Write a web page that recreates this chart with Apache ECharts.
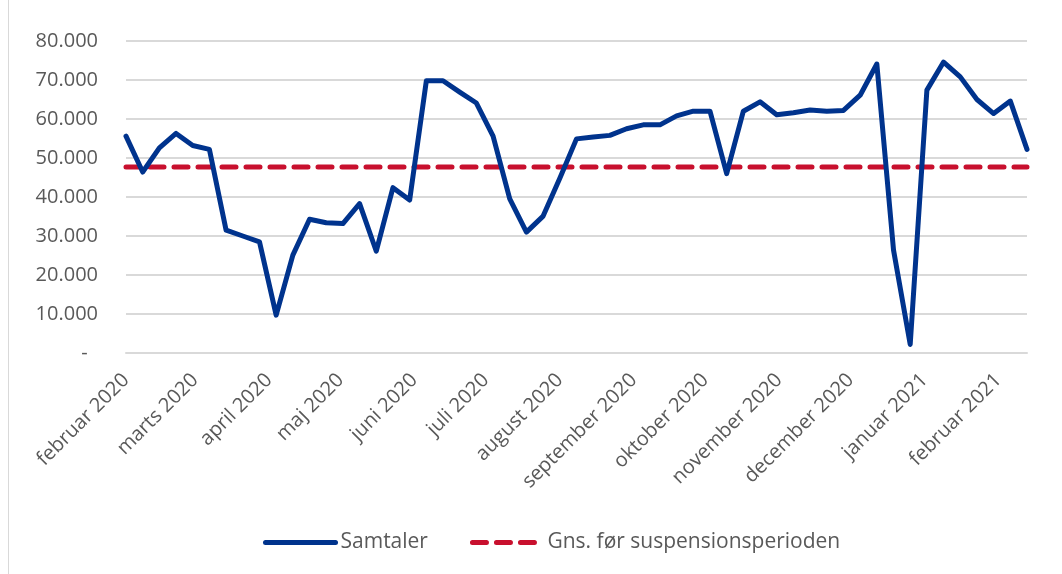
<!DOCTYPE html>
<html>
<head>
<meta charset="utf-8">
<script src="https://cdn.jsdelivr.net/npm/echarts@6/dist/echarts.min.js"></script>
<style>
  html, body { margin: 0; padding: 0; background: #ffffff; }
  #frame { position: absolute; left: 0; top: 0; width: 1062px; height: 574px; }
  #border { position: absolute; left: 8px; top: 0; width: 1px; height: 574px; background: #d9d9d9; }
  #chart { position: absolute; left: 0; top: 0; width: 1062px; height: 574px; }
</style>
</head>
<body>
<div id="frame">
  <div id="chart"></div>
  <div id="border"></div>
</div>
<script>
// ---- Data ----
const seriesNames = ['Samtaler', 'Gns. før suspensionsperioden'];
const firstWeek = [2020, 1, 1]; // 1 Feb 2020 (weekly observations)
const samtaler = [
  55600, 46400, 52600, 56300, 53200, 52200, 31500, 30000, 28500, 9700,
  25100, 34300, 33400, 33200, 38300, 26100, 42400, 39200, 69800, 69800,
  66900, 64100, 55600, 39500, 31000, 35100, 44800, 54900, 55400, 55800,
  57500, 58500, 58500, 60800, 62000, 62000, 46000, 62000, 64400, 61100,
  61600, 62300, 62000, 62200, 66100, 74100, 26400, 2200, 67400, 74600,
  70800, 65000, 61400, 64600, 52200
];
const avgBefore = 47700;
const monthTicks = [
  [2020, 1, 'februar 2020'], [2020, 2, 'marts 2020'], [2020, 3, 'april 2020'],
  [2020, 4, 'maj 2020'], [2020, 5, 'juni 2020'], [2020, 6, 'juli 2020'],
  [2020, 7, 'august 2020'], [2020, 8, 'september 2020'], [2020, 9, 'oktober 2020'],
  [2020, 10, 'november 2020'], [2020, 11, 'december 2020'], [2021, 0, 'januar 2021'],
  [2021, 1, 'februar 2021']
];
const yTicks = [0, 10000, 20000, 30000, 40000, 50000, 60000, 70000, 80000];

// ---- Build (x = days since first week) ----
const DAY = 86400000;
const t0 = Date.UTC(firstWeek[0], firstWeek[1], firstWeek[2]);
const weekDays = samtaler.map((_, i) => 7 * i);
const mainData = samtaler.map((v, i) => [weekDays[i], v]);
const avgData = [[weekDays[0], avgBefore], [weekDays[weekDays.length - 1], avgBefore]];
const tickValues = monthTicks.map(m => Math.round((Date.UTC(m[0], m[1], 1) - t0) / DAY));
const tickLabelMap = {};
monthTicks.forEach((m, i) => { tickLabelMap[tickValues[i]] = m[2]; });

function fmtThousands(v) {
  if (v === 0) return '-  ';
  return String(v).replace(/\B(?=(\d{3})+(?!\d))/g, '.');
}

const FONT = "'Open Sans', 'Liberation Sans', sans-serif";
const TXT = '#595959';

const chart = echarts.init(document.getElementById('chart'), null, { renderer: 'canvas' });
chart.setOption({
  animation: false,
  backgroundColor: '#ffffff',
  grid: { left: 126, right: 35, top: 41, bottom: 221, containLabel: false },
  legend: {
    bottom: 16,
    left: 258,
    itemWidth: 70,
    itemHeight: 14,
    itemGap: 42,
    itemStyle: { opacity: 0 },
    lineStyle: { width: 5 },
    textStyle: { fontFamily: FONT, fontSize: 21, color: TXT },
    data: seriesNames
  },
  xAxis: {
    type: 'value',
    min: weekDays[0],
    max: weekDays[weekDays.length - 1],
    axisLine: { show: true, onZero: false, lineStyle: { color: '#d9d9d9', width: 2 } },
    axisTick: { show: false },
    splitLine: { show: false },
    axisLabel: {
      customValues: tickValues,
      rotate: 45,
      margin: 24,
      fontFamily: FONT,
      fontSize: 20,
      color: TXT,
      hideOverlap: false,
      showMinLabel: true,
      showMaxLabel: true,
      formatter: function (val) {
        return tickLabelMap[Math.round(val)] || '';
      }
    }
  },
  yAxis: {
    type: 'value',
    min: yTicks[0],
    max: yTicks[yTicks.length - 1],
    interval: yTicks[1] - yTicks[0],
    axisLine: { show: false },
    axisTick: { show: false },
    splitLine: { show: true, lineStyle: { color: '#d9d9d9', width: 2 } },
    axisLabel: {
      margin: 28,
      fontFamily: FONT,
      fontSize: 20,
      color: TXT,
      formatter: fmtThousands
    }
  },
  series: [
    {
      name: seriesNames[0],
      type: 'line',
      data: mainData,
      symbol: 'none',
      lineStyle: { color: '#00338d', width: 5, join: 'round', cap: 'round' },
      itemStyle: { color: '#00338d' },
      z: 3
    },
    {
      name: seriesNames[1],
      type: 'line',
      data: avgData,
      symbol: 'none',
      lineStyle: { color: '#c8102e', width: 5, type: [14, 10], cap: 'round' },
      itemStyle: { color: '#c8102e' },
      z: 2
    }
  ]
});
</script>
</body>
</html>
